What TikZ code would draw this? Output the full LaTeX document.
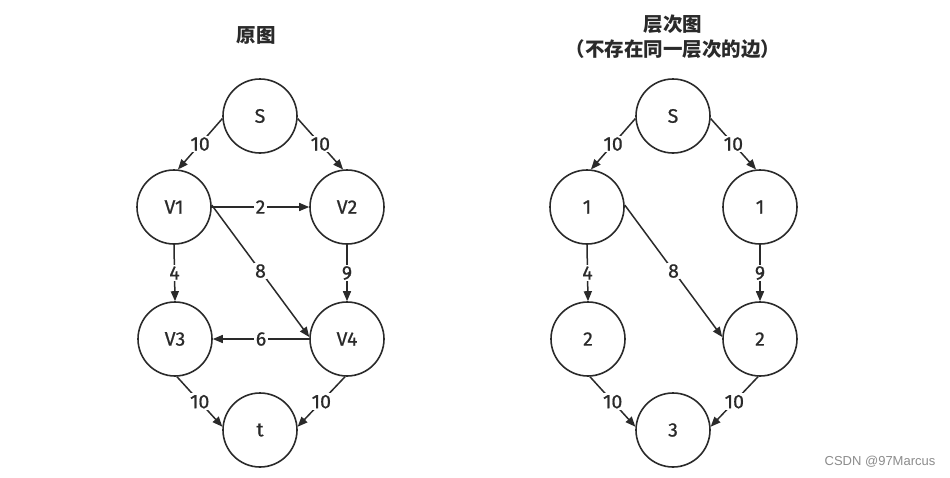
\documentclass[tikz,border=0pt]{standalone}
\usepackage{fontspec}
\setmainfont{Fira Sans}
\newfontfamily\nodefont{Fira Sans}[FakeBold=0.7]
\newfontfamily\cjk{Noto Sans CJK SC}
\newfontfamily\wmfont{Liberation Sans}
\usetikzlibrary{arrows.meta}
\definecolor{ink}{HTML}{2A2A2A}
\begin{document}
\begin{tikzpicture}[x=1pt,y=-1pt,
  vert/.style={circle,draw=ink,line width=1.6pt,minimum size=74pt,inner sep=0pt,
    font=\nodefont\fontsize{19.5}{19.5}\selectfont,text=ink},
  edge/.style={draw=ink,line width=1.5pt,-{Triangle[length=10pt,width=8pt]}},
  lbl/.style={fill=white,inner sep=1.5pt,font=\nodefont\fontsize{19.5}{19.5}\selectfont,text=ink},
  ttl/.style={font=\cjk\bfseries\fontsize{19.5}{22}\selectfont,text=ink,align=center}]
\useasboundingbox[fill=white] (0,0) rectangle (950,477);

% titles
\node[ttl] (t1) at (256,35) {原图};
\node[ttl] (t2a) at (673,24) {层次图};
\node[ttl] (t2b) at (673,49) {（不存在同一层次的边）};

% left graph
\node[vert] (S)  at (260,116) {S};
\node[vert] (V1) at (174,207) {V1};
\node[vert] (V2) at (347,207) {V2};
\node[vert] (V3) at (175,339) {V3};
\node[vert] (V4) at (347,339) {V4};
\node[vert] (T)  at (260,430) {t};

\draw[edge] (S.184) -- node[lbl] {10} (V1.84);
\draw[edge] (S.-4) -- node[lbl] {10} (V2.96);
\draw[edge] (V1.east) -- node[lbl] {2} (V2.west);
\draw[edge] (V1.3) -- node[lbl] {8} (V4.177);
\draw[edge] (V1.south) -- node[lbl] {4} (V3.north);
\draw[edge] (V2.south) -- node[lbl] {9} (V4.north);
\draw[edge] (V4.west) -- node[lbl] {6} (V3.east);
\draw[edge] (V3.-87) -- node[lbl] {10} (T.175);
\draw[edge] (V4.-93) -- node[lbl] {10} (T.5);

% right graph
\node[vert] (RS)  at (673,116) {S};
\node[vert] (R1a) at (587,207) {1};
\node[vert] (R1b) at (760,207) {1};
\node[vert] (R2a) at (588,339) {2};
\node[vert] (R2b) at (760,339) {2};
\node[vert] (R3)  at (673,430) {3};

\draw[edge] (RS.184) -- node[lbl] {10} (R1a.84);
\draw[edge] (RS.-4) -- node[lbl] {10} (R1b.96);
\draw[edge] (R1a.3) -- node[lbl] {8} (R2b.177);
\draw[edge] (R1a.south) -- node[lbl] {4} (R2a.north);
\draw[edge] (R1b.south) -- node[lbl] {9} (R2b.north);
\draw[edge] (R2a.-87) -- node[lbl] {10} (R3.175);
\draw[edge] (R2b.-93) -- node[lbl] {10} (R3.5);

% watermark
\node[font=\wmfont\fontsize{13}{13}\selectfont,text=black!45] (wm) at (880,462) {CSDN @97Marcus};
\end{tikzpicture}
\end{document}
